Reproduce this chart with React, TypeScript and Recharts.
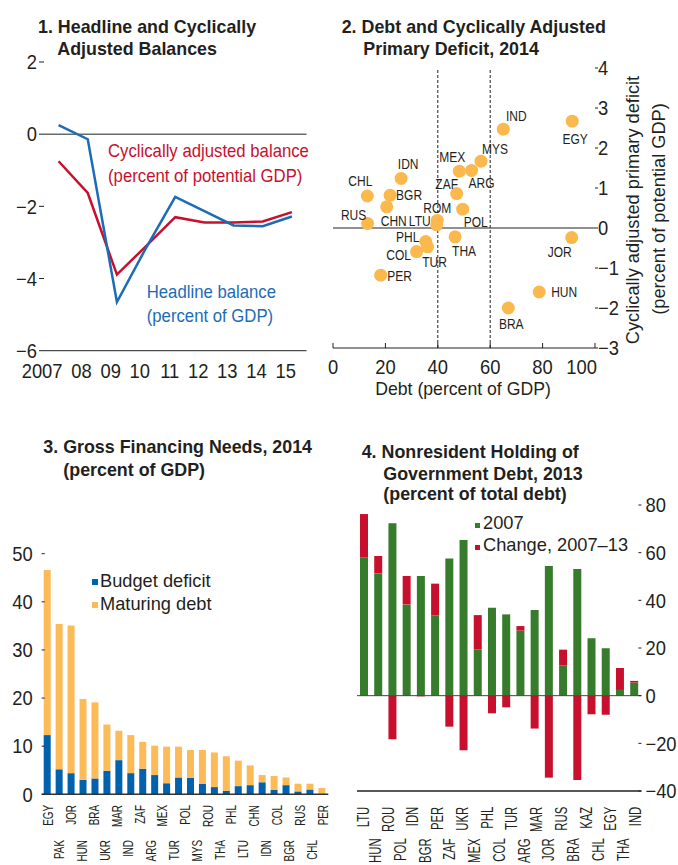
import React from 'react';
import {
  LineChart, Line, ScatterChart, Scatter, BarChart, Bar,
  XAxis, YAxis, ReferenceLine, Legend,
} from 'recharts';

const INK = '#231f20';
const FONT = '"Liberation Sans", Arial, sans-serif';
const LINE_BLUE = '#1c6cb5';
const LINE_RED = '#c8102e';
const DOT_ORANGE = '#fbb84c';
const BAR_BLUE = '#0061ad';
const BAR_ORANGE = '#fcbb57';
const BAR_GREEN = '#377c2d';
const BAR_RED = '#c8102e';

// 1. Headline and cyclically adjusted balances
const years = [2007, 2008, 2009, 2010, 2011, 2012, 2013, 2014, 2015];
const yearLabels = ['2007', '08', '09', '10', '11', '12', '13', '14', '15'];
const yearEdges = [2006.5, 2007.5, 2008.5, 2009.5, 2010.5, 2011.5, 2012.5, 2013.5, 2014.5, 2015.5];
const headlineBalance = [0.25, -0.14, -4.65, -3.15, -1.74, -2.13, -2.53, -2.55, -2.28];
const cyclicalBalance = [-0.75, -1.63, -3.89, -3.1, -2.3, -2.45, -2.45, -2.42, -2.16];
const balanceTicks = [-6, -4, -2, 0, 2];

// 2. Debt and cyclically adjusted primary deficit, 2014
const scatterCountries = ['IND', 'EGY', 'MYS', 'ARG', 'MEX', 'ZAF', 'POL', 'ROM', 'LTU', 'IDN', 'BGR',
  'CHN', 'CHL', 'RUS', 'PHL', 'TUR', 'COL', 'THA', 'PER', 'JOR', 'HUN', 'BRA'];
const debt2014 = [65.0, 91.3, 56.5, 52.9, 48.2, 47.2, 49.5, 39.8, 39.6, 26.0, 21.8,
  20.5, 13.1, 13.2, 35.4, 36.1, 31.9, 46.6, 18.2, 91.1, 78.7, 66.9];
const primaryDeficit2014 = [2.47, 2.67, 1.67, 1.44, 1.42, 0.86, 0.47, 0.19, 0.08, 1.24, 0.82,
  0.53, 0.8, 0.11, -0.34, -0.47, -0.59, -0.22, -1.18, -0.24, -1.6, -2.0];
const debtTicks = [0, 20, 40, 60, 80, 100];
const deficitTicks = [-3, -2, -1, 0, 1, 2, 3, 4];

// label placement around each dot (dx, dy)
const dotLabelOffset: Record<string, [number, number]> = {
  IND: [13, -14], EGY: [3, 17], MYS: [14, -13], ARG: [10, 12], MEX: [-7, -15], ZAF: [-10, -10],
  POL: [13, 12], ROM: [0, -13], LTU: [-17, -4], IDN: [7, -15], BGR: [19, -1], CHN: [7, 14],
  CHL: [-7, -15], RUS: [-14, -9], PHL: [-18, -5], TUR: [7, 15], COL: [-18, 3], THA: [9, 14],
  PER: [19, 0], JOR: [-12, 14], HUN: [25, 0], BRA: [3, 16],
};

// 3. Gross financing needs, 2014
const gfnLabels = ['EGY', 'PAK', 'JOR', 'HUN', 'BRA', 'UKR', 'MAR', 'IND', 'ZAF', 'ARG', 'MEX', 'TUR', 'POL',
  'MYS', 'ROU', 'THA', 'PHL', 'LTU', 'CHN', 'IDN', 'COL', 'BGR', 'RUS', 'CHL', 'PER'];
const gfnDeficit = [12.3, 5.2, 4.4, 3.0, 3.3, 4.9, 7.1, 4.4, 5.3, 4.0, 2.3, 3.5, 3.4, 2.2, 1.5, 0.7, 1.7, 1.9,
  2.5, 0.9, 1.9, 0.6, 1.0, 0.1];
const gfnMaturing = [34.3, 30.2, 30.7, 16.8, 15.8, 9.6, 6.1, 7.9, 5.6, 6.1, 7.6, 6.4, 5.8, 7.0, 7.2, 7.2, 5.3, 4.1,
  1.5, 2.9, 1.6, 1.6, 1.2, 1.2];
const gfnTicks = [0, 10, 20, 30, 40, 50];

// 4. Nonresident holding of government debt, 2013
const nrLabels = ['LTU', 'HUN', 'ROU', 'POL', 'IDN', 'BGR', 'PER', 'ZAF', 'UKR', 'MEX', 'PHL', 'COL', 'TUR',
  'ARG', 'MAR', 'JOR', 'RUS', 'BRA', 'KAZ', 'CHL', 'EGY', 'THA', 'IND'];
const nr2007 = [57.9, 51.3, 72.3, 38.3, 50.2, 33.6, 57.6, 65.3, 19.4, 36.9, 34.1, 27.3, 35.9, 54.4, 12.7, 53.1,
  24.1, 19.9, 2.4, 5.5];
const nrChange = [18.3, 7.3, -18.3, 11.9, -0.3, 13.4, -13.0, -22.9, 14.4, -7.4, -4.9, 1.9, -13.8, -34.4, 6.6,
  -35.4, -7.8, -8.0, 9.2, 0.7];
const nrTicks = [-40, -20, 0, 20, 40, 60, 80];

const balanceRows = years.map((year, i) => ({ year, headline: headlineBalance[i], cyclical: cyclicalBalance[i] }));
const scatterRows = scatterCountries.map((name, i) => ({ name, debt: debt2014[i], deficit: primaryDeficit2014[i] }));
const gfnRows = gfnDeficit.map((deficit, i) => ({ i, deficit, maturing: gfnMaturing[i] }));
const nrRows = nr2007.map((v, i) => ({ i, base: v, change: nrChange[i] }));
const idx = (n: number) => Array.from({ length: n }, (_, i) => i);

const signed = (v: number) => (v < 0 ? `\u2212${Math.abs(v)}` : `${v}`);

// svg text, optionally squeezed horizontally (the source uses a condensed face) and rotated
const NText = ({ x, y, size, sq = 1, anchor = 'start', weight, fill = INK, rotate = false, children }: any) => (
  <text transform={`translate(${x} ${y})${rotate ? ' rotate(-90)' : ''} scale(${sq} 1)`}
    textAnchor={anchor} fontSize={size} fontWeight={weight} fill={fill} fontFamily={FONT}>
    {children}
  </text>
);

const TICK_SIZE = 20;
const TICK_SQ = 0.92;

const YearTick = ({ x, y, payload }: any) => (
  <NText x={x + 4} y={y + 26} anchor="end" size={TICK_SIZE} sq={TICK_SQ}>
    {yearLabels[years.indexOf(payload.value)]}
  </NText>
);

const valueTick = (anchor: 'start' | 'end') => ({ x, y, payload }: any) => (
  <NText x={x} y={y + 7.2} anchor={anchor} size={TICK_SIZE} sq={TICK_SQ}>{signed(payload.value)}</NText>
);

const DebtTick = ({ x, y, payload }: any) => {
  const last = payload.value === 100;
  return (
    <NText x={last ? x + 2 : x} y={y + 31} anchor={last ? 'end' : 'middle'} size={TICK_SIZE} sq={TICK_SQ}>
      {payload.value}
    </NText>
  );
};

const countryTick = (names: string[], upper: number, lower: number, size: number, sq: number) =>
  ({ x, y, payload }: any) => (
    <NText x={x + size * 0.36} y={y + (payload.value % 2 === 0 ? upper : lower)} anchor="end" size={size} sq={sq} rotate>
      {names[payload.value]}
    </NText>
  );

const LabelledDot = ({ cx, cy, payload }: any) => {
  const [dx, dy] = dotLabelOffset[payload.name] ?? [0, -14];
  return (
    <g>
      <circle cx={cx} cy={cy} r={6.5} fill={DOT_ORANGE} />
      <NText x={cx + dx} y={cy + dy + 5.4} anchor="middle" size={15} sq={0.8}>{payload.name}</NText>
    </g>
  );
};

const SquareLegend = ({ payload, rowHeight, square }: any) => {
  const base = (rowHeight - 1.117 * 19) / 2 + 0.905 * 19;
  return (
    <div style={{ fontFamily: FONT, fontSize: 19, color: INK }}>
      {(payload || []).map((p: any) => (
        <div key={p.value} style={{ position: 'relative', height: rowHeight, lineHeight: `${rowHeight}px`, whiteSpace: 'nowrap', paddingLeft: square + 2.5 }}>
          <span style={{ position: 'absolute', left: 0, top: base - 2 - square, width: square, height: square, background: p.color }} />
          <span style={{ display: 'inline-block', transform: 'scaleX(0.96)', transformOrigin: 'left' }}>{p.value}</span>
        </div>
      ))}
    </div>
  );
};

export default function App() {
  return (
    <div style={{ position: 'absolute', left: 0, top: 0, width: 678, height: 865, background: '#fff', fontFamily: FONT }}>
      <style>{'.recharts-surface { overflow: visible; }'}</style>
      <div style={{ position: 'absolute', left: 0, top: 0 }}>
        <LineChart width={330} height={400} data={balanceRows} margin={{ top: 62, right: 22.5, bottom: 18.3, left: 0 }}>
          <XAxis xAxisId="a_edge" type="number" domain={[2006.5, 2015.5]} ticks={yearEdges} interval={0} height={1}
            tick={false} tickSize={-5} axisLine={{ stroke: INK }} tickLine={{ stroke: INK }} />
          <XAxis xAxisId="b_year" dataKey="year" type="number" domain={[2006.5, 2015.5]} ticks={years} interval={0} height={30}
            axisLine={false} tickLine={false} tickSize={0} tickMargin={0} tick={YearTick} />
          <YAxis yAxisId="l" type="number" domain={[-6, 2]} ticks={balanceTicks} interval={0} width={44}
            axisLine={false} tickLine={{ stroke: INK }} tickSize={5} tickMargin={2} tick={valueTick('end')} />
          <YAxis yAxisId="r" orientation="right" type="number" domain={[-6, 2]} ticks={balanceTicks} interval={0} width={1}
            axisLine={false} tick={false} tickSize={-4} tickLine={{ stroke: INK }} />
          <ReferenceLine xAxisId="b_year" yAxisId="l" y={0} stroke={INK} />
          <Line xAxisId="b_year" yAxisId="l" dataKey="cyclical" stroke={LINE_RED} strokeWidth={2.5} dot={false} isAnimationActive={false} />
          <Line xAxisId="b_year" yAxisId="l" dataKey="headline" stroke={LINE_BLUE} strokeWidth={2.5} dot={false} isAnimationActive={false} />
        </LineChart>
      </div>

      <div style={{ position: 'absolute', left: 330, top: 0 }}>
        <ScatterChart width={348} height={400} margin={{ top: 68, right: 43, bottom: 22, left: 2 }}>
          <XAxis type="number" dataKey="debt" domain={[0, 100]} ticks={debtTicks} interval={0} height={30}
            axisLine={{ stroke: INK }} tickLine={{ stroke: INK }} tickSize={-5} tickMargin={0} tick={DebtTick} />
          <YAxis yAxisId="l" type="number" dataKey="deficit" domain={[-3, 4]} ticks={deficitTicks} interval={0} width={1}
            axisLine={false} tick={false} tickSize={-4} tickLine={{ stroke: INK }} />
          <YAxis yAxisId="r" orientation="right" type="number" dataKey="deficit" domain={[-3, 4]} ticks={deficitTicks}
            interval={0} width={40} axisLine={false} tickSize={3} tickMargin={0} tickLine={{ stroke: INK }} tick={valueTick('start')} />
          <ReferenceLine yAxisId="r" y={0} stroke={INK} />
          <ReferenceLine yAxisId="r" x={40} stroke={INK} strokeDasharray="3 2" />
          <ReferenceLine yAxisId="r" x={60} stroke={INK} strokeDasharray="3 2" />
          <Scatter yAxisId="r" data={scatterRows} shape={LabelledDot} isAnimationActive={false} />
        </ScatterChart>
      </div>

      <div style={{ position: 'absolute', left: 0, top: 400 }}>
        <BarChart width={340} height={465} data={gfnRows} margin={{ top: 153.7, right: 10.7, bottom: 0.7, left: 0 }}>
          <XAxis xAxisId="a_lbl" dataKey="i" type="number" domain={[-0.5, 24.5]} ticks={idx(25)} interval={0} height={70}
            axisLine={{ stroke: '#333', strokeWidth: 1.5 }} tickLine={false} tickSize={0} tickMargin={0}
            tick={countryTick(gfnLabels, 10.7, 45.7, 15, 0.66)} />
          <XAxis xAxisId="z_bar" dataKey="i" type="number" domain={[-0.5, 23.5]} ticks={idx(24)} hide />
          <YAxis yAxisId="l" type="number" domain={[0, 50]} ticks={gfnTicks} interval={0} width={41.7}
            axisLine={false} tickLine={{ stroke: INK }} tickSize={-3} tickMargin={12} tick={valueTick('end')} />
          <YAxis yAxisId="r" orientation="right" type="number" domain={[0, 50]} ticks={gfnTicks} interval={0} width={1}
            axisLine={false} tick={false} tickSize={-3} tickLine={{ stroke: INK }} />
          <Legend layout="vertical" align="center" verticalAlign="middle"
            wrapperStyle={{ left: 91.7, top: 168.9, width: 'auto' }}
            content={(p: any) => <SquareLegend payload={p.payload} rowHeight={23} square={6} />} />
          <Bar xAxisId="z_bar" yAxisId="l" dataKey="deficit" name="Budget deficit" stackId="g" fill={BAR_BLUE} barSize={7} isAnimationActive={false} />
          <Bar xAxisId="z_bar" yAxisId="l" dataKey="maturing" name="Maturing debt" stackId="g" fill={BAR_ORANGE} barSize={7} isAnimationActive={false} />
        </BarChart>
      </div>

      <div style={{ position: 'absolute', left: 340, top: 400 }}>
        <BarChart width={338} height={465} data={nrRows} stackOffset="sign" margin={{ top: 105, right: 0.6, bottom: 0, left: 16 }}>
          <XAxis xAxisId="a_lbl" dataKey="i" type="number" domain={[-0.5, 22.5]} ticks={idx(23)} interval={0} height={74}
            axisLine={{ stroke: INK, strokeWidth: 1.5 }} tickLine={false} tickSize={0} tickMargin={0}
            tick={countryTick(nrLabels, 15.7, 47.3, 16, 0.71)} />
          <XAxis xAxisId="z_bar" dataKey="i" type="number" domain={[-0.5, 19.5]} ticks={idx(20)} hide />
          <YAxis yAxisId="l" type="number" domain={[-40, 80]} ticks={nrTicks} interval={0} width={1}
            axisLine={false} tick={false} tickSize={-3} tickLine={{ stroke: INK }} />
          <YAxis yAxisId="r" orientation="right" type="number" domain={[-40, 80]} ticks={nrTicks} interval={0} width={36}
            axisLine={false} tickLine={{ stroke: INK }} tickSize={-3} tickMargin={7} tick={valueTick('start')} />
          <ReferenceLine xAxisId="z_bar" yAxisId="r" y={0} stroke="#444" />
          <Legend layout="vertical" align="center" verticalAlign="middle"
            wrapperStyle={{ left: 135, top: 112.4, width: 'auto' }}
            content={(p: any) => <SquareLegend payload={p.payload} rowHeight={22} square={5} />} />
          <Bar xAxisId="z_bar" yAxisId="r" dataKey="base" name="2007" stackId="n" fill={BAR_GREEN} barSize={8} isAnimationActive={false} />
          <Bar xAxisId="z_bar" yAxisId="r" dataKey="change" name="Change, 2007–13" stackId="n" fill={BAR_RED} barSize={8} isAnimationActive={false} />
        </BarChart>
      </div>

      <svg width={678} height={865} style={{ position: 'absolute', left: 0, top: 0, pointerEvents: 'none' }}>
        <NText x={38} y={33.3} size={18.6} sq={0.96} weight="bold">1. Headline and Cyclically</NText>
        <NText x={57.3} y={55} size={18.6} sq={0.96} weight="bold">Adjusted Balances</NText>
        <NText x={341.7} y={33.3} size={18.6} sq={0.96} weight="bold">2. Debt and Cyclically Adjusted</NText>
        <NText x={363.3} y={55} size={18.6} sq={0.96} weight="bold">Primary Deficit, 2014</NText>
        <NText x={43.3} y={453.3} size={18.6} sq={0.96} weight="bold">3. Gross Financing Needs, 2014</NText>
        <NText x={63.3} y={475.5} size={18.6} sq={0.96} weight="bold">(percent of GDP)</NText>
        <NText x={361.7} y={458.3} size={18.6} sq={0.96} weight="bold">4. Nonresident Holding of</NText>
        <NText x={383.3} y={480} size={18.6} sq={0.96} weight="bold">Government Debt, 2013</NText>
        <NText x={383.3} y={500} size={18.6} sq={0.96} weight="bold">(percent of total debt)</NText>

        <NText x={108} y={156.7} size={18} sq={0.93} fill={LINE_RED}>Cyclically adjusted balance</NText>
        <NText x={108} y={181.7} size={18} sq={0.93} fill={LINE_RED}>(percent of potential GDP)</NText>
        <NText x={146.7} y={297.7} size={18} sq={0.93} fill={LINE_BLUE}>Headline balance</NText>
        <NText x={146.7} y={321.7} size={18} sq={0.93} fill={LINE_BLUE}>(percent of GDP)</NText>

        <NText x={463} y={394.5} size={18.6} sq={0.95} anchor="middle">Debt (percent of GDP)</NText>
        <NText x={639} y={210} size={18.6} sq={0.98} anchor="middle" rotate>Cyclically adjusted primary deficit</NText>
        <NText x={665} y={209} size={18.6} sq={0.98} anchor="middle" rotate>(percent of potential GDP)</NText>
      </svg>
    </div>
  );
}
